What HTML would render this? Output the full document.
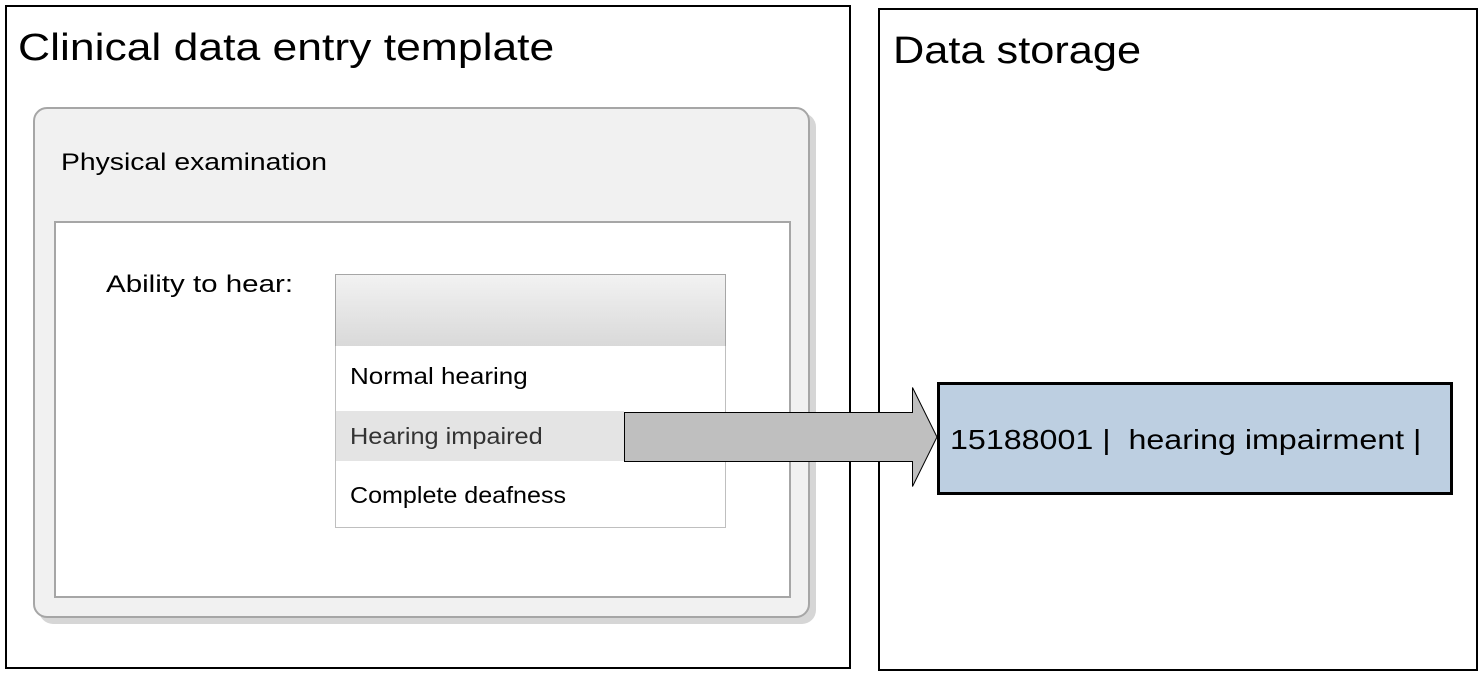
<!DOCTYPE html>
<html><head><meta charset="utf-8"><style>
body{margin:0;width:1479px;height:676px;background:#fff;position:relative;overflow:hidden;font-family:"Liberation Sans",sans-serif;}
div{position:absolute;box-sizing:border-box;}
.t{white-space:nowrap;color:#000;line-height:1;transform-origin:0 50%;}
</style></head><body>
<div style="left:5px;top:5px;width:846px;height:664px;border:2px solid #000"></div>
<div style="left:878px;top:8px;width:600px;height:663px;border:2px solid #000"></div>
<div class="t" style="left:18px;top:29px;font-size:38px;transform:scaleX(1.17)">Clinical data entry template</div>
<div class="t" style="left:893px;top:32px;font-size:38px;transform:scaleX(1.14)">Data storage</div>
<div style="left:39px;top:113px;width:777px;height:511px;border-radius:14px;background:#d6d6d6"></div>
<div style="left:33px;top:107px;width:777px;height:511px;border-radius:14px;background:#f1f1f1;border:2px solid #a6a6a6"></div>
<div class="t" style="left:61px;top:151px;font-size:24px;transform:scaleX(1.18)">Physical examination</div>
<div style="left:54px;top:221px;width:737px;height:377px;background:#fff;border:2px solid #a6a6a6"></div>
<div class="t" style="left:106px;top:273px;font-size:24px;transform:scaleX(1.23)">Ability to hear:</div>
<div style="left:335px;top:274px;width:391px;height:73px;border:1px solid #a6a6a6;background:linear-gradient(#f2f2f2,#d9d9d9)"></div>
<div style="left:335px;top:346px;width:391px;height:182px;border:1px solid #bfbfbf;border-top:none;background:#fff"></div>
<div style="left:336px;top:411px;width:288px;height:50px;background:#e4e4e4"></div>
<div class="t" style="left:350px;top:365px;font-size:23px;transform:scaleX(1.13)">Normal hearing</div>
<div class="t" style="left:350px;top:425px;font-size:23px;color:#333;transform:scaleX(1.1)">Hearing impaired</div>
<div class="t" style="left:350px;top:484px;font-size:23px;transform:scaleX(1.09)">Complete deafness</div>
<div style="left:937px;top:382px;width:516px;height:113px;background:#bdcfe1;border:3px solid #000"></div>
<div class="t" style="left:950px;top:426px;font-size:28px;transform:scaleX(1.15)">15188001 |&nbsp; hearing impairment |</div>
<svg style="position:absolute;left:0;top:0" width="1479" height="676">
<polygon points="624.5,412.5 912.5,412.5 912.5,387.5 937,437 912.5,486.5 912.5,461.5 624.5,461.5" fill="#bfbfbf" stroke="#000" stroke-width="1"/>
</svg>
</body></html>
